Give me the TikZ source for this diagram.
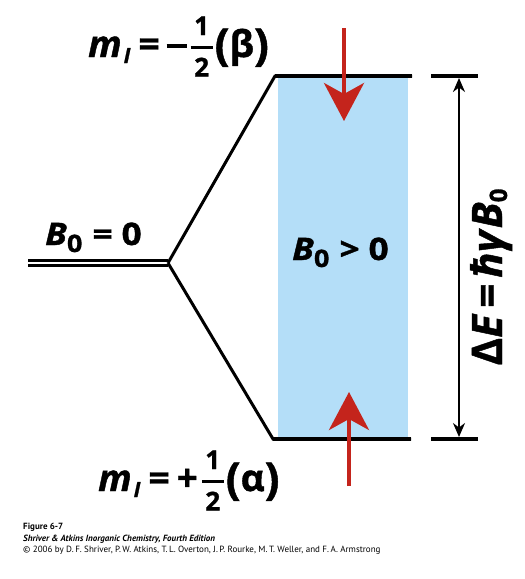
\documentclass[tikz,border=0pt]{standalone}
\usepackage{fontspec}
\usepackage{graphicx}
\setmainfont{Open Sans}[BoldFeatures={FakeBold=1.1},BoldItalicFeatures={FakeBold=1.1}]
\newfontfamily\capfont{PT Sans}
\usetikzlibrary{arrows.meta}
\definecolor{spinred}{RGB}{196,36,28}
\definecolor{fieldblue}{RGB}{180,222,248}
% half fraction: 1 over 2 with a bar
\newcommand{\halfbar}[1]{{\fontsize{26}{26}\selectfont\bfseries
  \rlap{\raisebox{22pt}{\makebox[22pt]{1}}}%
  \rlap{\raisebox{#1}{\rule{22pt}{3pt}}}%
  \raisebox{-19.5pt}{\makebox[22pt]{2}}}}
\newcommand{\minusbar}{\raisebox{9pt}{\rule{20pt}{3.8pt}}}
\newcommand{\bigparen}[1]{\raisebox{-3pt}{\fontsize{44}{44}\selectfont #1}}
\newcommand{\mIsub}{\textit{m}\hspace{2pt}\raisebox{-6pt}{\fontsize{21}{21}\selectfont\textit{I}}}
\newcommand{\Bsub}[1]{\textit{B}\raisebox{-7pt}{\fontsize{#1}{#1}\selectfont 0}}
\begin{document}
\begin{tikzpicture}[x=1pt,y=-1pt,
  lbl/.style={inner sep=0pt,anchor=base west},
  mfont/.style={font=\fontsize{37}{40}\selectfont\bfseries},
  bfont/.style={font=\fontsize{31}{34}\selectfont\bfseries},
  level/.style={line width=4pt},
  split/.style={line width=3pt},
  redarrow/.style={spinred,line width=4pt,-{Stealth[length=38pt,width=40pt,inset=11pt]}},
  gap/.style={line width=2pt,{Stealth[length=14pt,width=12pt]}-{Stealth[length=14pt,width=12pt]}},
  captxt/.style={inner sep=0pt,anchor=base west}]
\useasboundingbox (0,0) rectangle (525,579);
% field region
\fill[fieldblue] (278,78) rectangle (408,437);
% coordinates of levels
\coordinate (fork) at (168,263);
\coordinate (dl) at (28,263);
\coordinate (ut) at (275,76);
\coordinate (ue) at (412,76);
\coordinate (lt) at (273,439);
\coordinate (le) at (411,439);
\coordinate (rbu1) at (431,76);
\coordinate (rbu2) at (478,76);
\coordinate (rbl1) at (431,439);
\coordinate (rbl2) at (478,439);
\coordinate (gu) at (459,78);
\coordinate (gl) at (459,437);
\coordinate (ra1) at (344,28);
\coordinate (ra2) at (344,121);
\coordinate (rb1) at (349,486);
\coordinate (rb2) at (349,392);
% degenerate level
\draw[double=white,double distance=1.6pt,line width=3.6pt] (dl) -- (fork);
% split
\draw[split,line join=miter] (fork) -- (ut) -- (ue);
\draw[split,line join=miter] (fork) -- (lt) -- (le);
\draw[level] (ut) -- (ue);
\draw[level] (lt) -- (le);
% energy gap markers
\draw[level] (rbu1) -- (rbu2);
\draw[level] (rbl1) -- (rbl2);
\draw[gap] (gu) -- (gl);
% red arrows
\draw[redarrow] (ra1) -- (ra2);
\draw[redarrow] (rb1) -- (rb2);
% labels
\node[lbl,mfont] (mbeta) at (88,57) {\mIsub\hspace{8pt}=\hspace{7pt}\minusbar\hspace{4pt}\halfbar{8pt}\hspace{2pt}\bigparen{(}β\bigparen{)}};
\node[lbl,bfont] (bzero) at (45,245) {\scalebox{1.13}[1]{\Bsub{24}\hspace{9pt}=\hspace{8pt}0}};
\node[lbl,bfont] (bpos) at (292,260) {\scalebox{1.13}[1]{\Bsub{24}\hspace{9pt}>\hspace{8pt}0}};
\node[lbl,mfont] (malpha) at (98,491) {\mIsub\hspace{8pt}=\hspace{7pt}+\hspace{4pt}\halfbar{8.5pt}\hspace{2pt}\bigparen{(}α\bigparen{)}};
\node[inner sep=0pt,anchor=base,rotate=90,font=\fontsize{42}{44}\selectfont\bfseries] (de) at (502,277) {Δ\textit{E}\hspace{6pt}=\hspace{6pt}\textit{ħγ}\textit{B}\raisebox{-5pt}{\fontsize{24}{24}\selectfont 0}};
% caption
\node[captxt,font=\capfont\fontsize{9}{11}\selectfont\bfseries] (c1) at (23,529) {Figure 6-7};
\node[captxt,font=\capfont\fontsize{9}{11}\selectfont\bfseries\itshape] (c2) at (23,541) {Shriver \& Atkins Inorganic Chemistry, Fourth Edition};
\node[captxt,font=\capfont\fontsize{9}{11}\selectfont] (c3) at (23,552) {© 2006 by D.\,F. Shriver, P.\,W. Atkins, T.\,L. Overton, J.\,P. Rourke, M.\,T. Weller, and F.\,A. Armstrong};
\end{tikzpicture}
\end{document}
